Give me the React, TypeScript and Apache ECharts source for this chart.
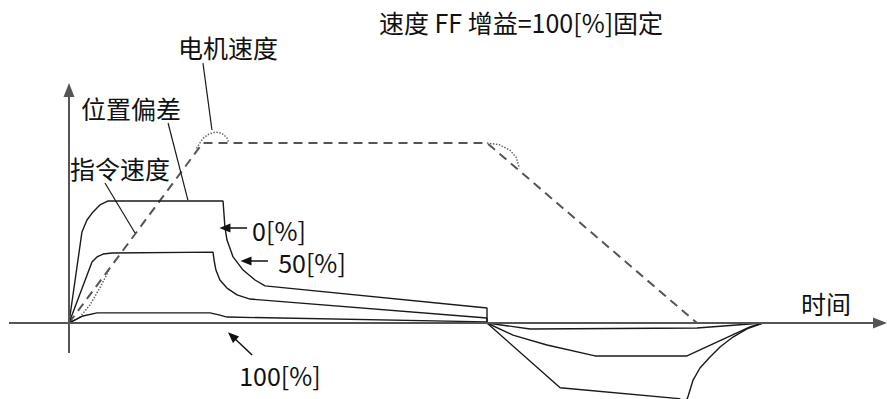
import React, { useEffect, useRef } from "react";
import * as echarts from "echarts";

// ---- data (time units, speed / deviation in %) ----
const commandTime = [0, 64, 200, 300.5];
const commandSpeed = [0, 100, 100, 0];

const motorStartTime = [0, 5, 10, 15, 19];
const motorStartSpeed = [0, 3, 10, 20, 29];
const motorTopTime = [61, 64, 67, 70, 73, 75.5, 76.5];
const motorTopSpeed = [97, 102.5, 105, 106, 105.5, 103, 100];
const motorDecelTime = [200, 206, 211, 214, 215.5];
const motorDecelSpeed = [100, 99, 96, 92, 86];

const dev0Time = [0, 6.2, 8.6, 11.5, 14.8, 18.7, 73.7, 74.6, 75.6, 78.5, 83.3, 89.0, 93.8, 200, 200, 235, 292, 294.5, 296, 298.6, 301.9, 306.7, 311.5, 317.7, 324.4, 332];
const dev0Value = [0, 50.6, 57.2, 61.7, 65.6, 67.8, 67.8, 53.3, 46.1, 36.7, 29.4, 23.9, 20.6, 8.3, 0, -36, -42, -44, -41.5, -31.7, -25, -18.9, -13.3, -7.8, -3.3, 0];

const dev50Time = [0, 11, 13.4, 16.3, 20.6, 68.9, 69.4, 70.3, 72.2, 75.6, 80.4, 86.6, 200, 200, 212.4, 228.7, 251.7, 295.7, 325.8, 332];
const dev50Value = [0, 33.9, 36.7, 38.3, 38.9, 39.4, 35, 29.4, 23.9, 19.4, 15.6, 13.3, 2.8, 0, -6.7, -12.2, -18.3, -18.3, -2.2, 0];

const dev100Time = [0, 6.7, 13.4, 18.2, 67.5, 72.2, 75.6, 200, 200, 220.6, 300.5, 332];
const dev100Value = [0, 3.9, 5.6, 5.6, 5.6, 4.4, 3.3, 0.6, 0, -3.3, -2.8, 0];

const titleText = "速度 FF 增益=100[%]固定";
const labelTexts = ["电机速度", "位置偏差", "指令速度", "0[%]", "50[%]", "100[%]", "时间"];

// leader lines and arrows, in data coordinates
const leaderLines = [
  [[64.1, 144.4], [68.4, 107.2]],
  [[47.4, 111.1], [56.9, 68.3]],
  [[17.2, 77.8], [31.6, 50]],
];
const arrowLines = [
  [[85.2, 52.8], [74.6, 52.8]],
  [[95.2, 34.4], [84.7, 34.4]],
  [[87.6, -17.8], [78.0, -7.2]],
];

const zip = (t: number[], v: number[]) => t.map((x, i) => [x, v[i]]);

const W = 887;
const H = 399;
const PX_T = 2.09;
const PX_V = 1.8;
const OX = 69;
const OY = 323;

export default function App() {
  const ref = useRef<HTMLDivElement>(null);
  useEffect(() => {
    if (!ref.current) return;
    const chart = echarts.init(ref.current, null, { renderer: "svg" });
    const font = '"Noto Sans CJK SC", "Noto Sans", sans-serif';
    const curve = (name: string, t: number[], v: number[], style: any) => ({
      name,
      type: "line",
      data: zip(t, v),
      symbol: "none",
      silent: true,
      lineStyle: style,
      z: 3,
    });
    const solid = { color: "#1a1a1a", width: 1.4 };
    const labelPos = [
      [228, 47],
      [131, 108],
      [120, 168],
      [279, 230],
      [312, 262],
      [280, 375],
      [826, 303],
    ];
    chart.setOption({
      animation: false,
      grid: { left: 0, right: 0, top: 0, bottom: 0 },
      xAxis: {
        type: "value",
        min: -OX / PX_T,
        max: (W - OX) / PX_T,
        show: false,
      },
      yAxis: {
        type: "value",
        min: -(H - OY) / PX_V,
        max: OY / PX_V,
        show: false,
      },
      series: [
        {
          name: "axes",
          type: "line",
          data: [],
          silent: true,
          markLine: {
            silent: true,
            animation: false,
            label: { show: false },
            symbol: ["none", "triangle"],
            symbolSize: [11, 14],
            lineStyle: { color: "#555", width: 2, type: "solid" },
            data: [
              [{ coord: [-60 / PX_T, 0] }, { coord: [(880 - OX) / PX_T, 0] }],
              [{ coord: [0, -30 / PX_V] }, { coord: [0, (OY - 90) / PX_V] }],
            ],
          },
        },
        {
          name: "leaders",
          type: "line",
          data: [],
          silent: true,
          markLine: {
            silent: true,
            animation: false,
            label: { show: false },
            symbol: ["none", "none"],
            lineStyle: { color: "#1a1a1a", width: 1.2, type: "solid" },
            data: leaderLines.map((l) => [{ coord: l[0] }, { coord: l[1] }]),
          },
        },
        {
          name: "arrows",
          type: "line",
          data: [],
          silent: true,
          markLine: {
            silent: true,
            animation: false,
            label: { show: false },
            symbol: ["none", "triangle"],
            symbolSize: [9, 11],
            lineStyle: { color: "#111", width: 1.5, type: "solid" },
            data: arrowLines.map((l) => [{ coord: l[0] }, { coord: l[1] }]),
          },
        },
        curve("指令速度", commandTime, commandSpeed, { color: "#555", width: 2, type: [9, 6] }),
        curve("电机速度起", motorStartTime, motorStartSpeed, { color: "#666", width: 1.5, type: "dotted" }),
        curve("电机速度顶", motorTopTime, motorTopSpeed, { color: "#666", width: 1.5, type: "dotted" }),
        curve("电机速度减", motorDecelTime, motorDecelSpeed, { color: "#666", width: 1.5, type: "dotted" }),
        curve("0[%]", dev0Time, dev0Value, solid),
        curve("50[%]", dev50Time, dev50Value, solid),
        curve("100[%]", dev100Time, dev100Value, solid),
      ],
      graphic: [
        {
          type: "text",
          x: 521,
          y: 22,
          silent: true,
          style: {
            text: titleText,
            font: `25px ${font}`,
            fill: "#111",
            textAlign: "center",
            textVerticalAlign: "middle",
          },
        },
        ...labelTexts.map((t, i) => ({
          type: "text",
          x: labelPos[i][0],
          y: labelPos[i][1],
          silent: true,
          style: {
            text: t,
            font: `25px ${font}`,
            fill: "#111",
            textAlign: "center",
            textVerticalAlign: "middle",
          },
        })),
      ],
    });
    return () => chart.dispose();
  }, []);
  return (
    <div
      ref={ref}
      style={{ position: "fixed", left: 0, top: 0, width: W, height: H, background: "#fff" }}
    />
  );
}
